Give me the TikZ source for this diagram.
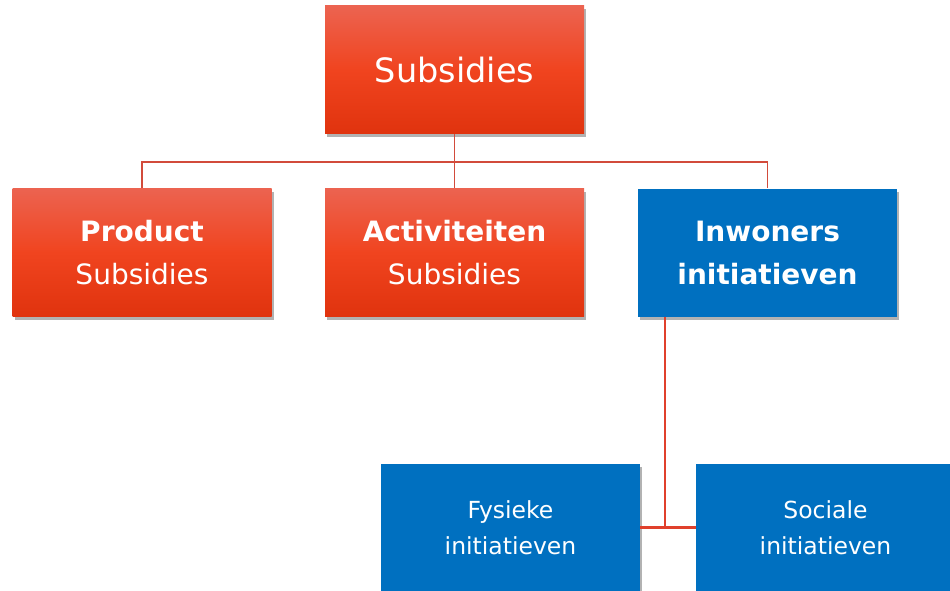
\documentclass[tikz,border=0pt]{standalone}
\usepackage{fontspec}
\setmainfont{DejaVu Sans}
\usetikzlibrary{shadows}
\definecolor{redtop}{HTML}{EC6350}
\definecolor{redmid}{HTML}{F0441F}
\definecolor{redbot}{HTML}{E0330E}
\definecolor{boxblue}{HTML}{0070C0}
\definecolor{linered}{HTML}{D24B3B}
\definecolor{linered2}{HTML}{E0402C}
\tikzset{
  box/.style={minimum width=259pt, minimum height=128pt, inner sep=0pt, align=center, text=white,
    drop shadow={shadow xshift=2pt, shadow yshift=-3pt, opacity=0.3, fill=black}},
  redbox/.style={box, top color=redtop, bottom color=redbot, middle color=redmid},
  bluebox/.style={box, fill=boxblue},
  conn/.style={draw=linered, line width=1.6pt},
  conn2/.style={draw=linered2, line width=2.2pt},
}
\begin{document}
\begin{tikzpicture}[x=1pt,y=1pt]
\useasboundingbox (0,0) rectangle (950,-591);
\clip (0,0) rectangle (950,-591);
\node[redbox, font=\fontsize{33.5}{40}\selectfont] (top) at (454.5,-70) {Subsidies};
\node[redbox, font=\fontsize{28}{43}\selectfont] (prod) at (142,-252.5) {\textbf{Product}\\Subsidies};
\node[redbox, font=\fontsize{28}{43}\selectfont] (act) at (454.5,-252.5) {\textbf{Activiteiten}\\Subsidies};
\node[bluebox, font=\fontsize{28}{43}\bfseries\selectfont] (inw) at (767.5,-252.5) {Inwoners\\initiatieven};
\node[bluebox, font=\fontsize{23.5}{36}\selectfont] (fys) at (510.5,-527.5) {Fysieke\\initiatieven};
\node[bluebox, font=\fontsize{23.5}{36}\selectfont] (soc) at (825.5,-527.5) {Sociale\\initiatieven};
\coordinate (j) at (454.5,-162);
\draw[conn] (top.south) -- (j);
\draw[conn] (prod.north) |- (j) -| (inw.north);
\draw[conn] (j) -- (act.north);
\draw[conn2] ([xshift=27pt]inw.south west) |- (fys.east);
\draw[conn2] (fys.east) -- (soc.west);
\end{tikzpicture}
\end{document}
